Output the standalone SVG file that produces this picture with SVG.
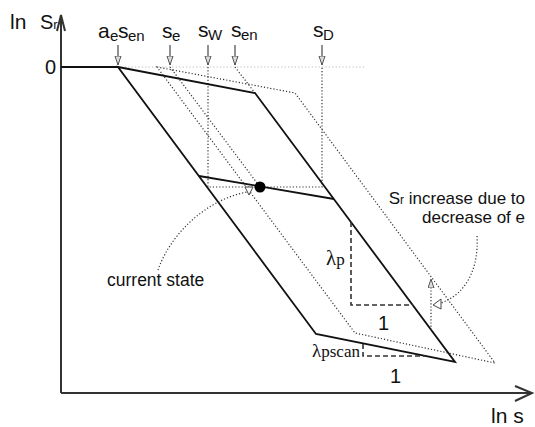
<svg xmlns="http://www.w3.org/2000/svg" width="535" height="427" viewBox="0 0 535 427">
<style>
text{font-family:"Liberation Sans",Arial,sans-serif;fill:#111}
.gr{font-family:"Liberation Serif","Times New Roman",serif}
.solid{fill:none;stroke:#111;stroke-width:1.8;stroke-linejoin:miter}
.dot{fill:none;stroke:#333;stroke-width:1.2;stroke-dasharray:1.2 2}
.ldot{fill:none;stroke:#bbb;stroke-width:1.2;stroke-dasharray:1.2 2.2}
.dash{fill:none;stroke:#333;stroke-width:1.6;stroke-dasharray:5 3}
.axis{fill:none;stroke:#333;stroke-width:2}
.lbl{fill:none;stroke:#555;stroke-width:1.3}
</style>
<defs>
<marker id="ah" markerWidth="10" markerHeight="8" refX="9" refY="3.5" orient="auto" markerUnits="userSpaceOnUse">
<path d="M0,0.5 L9,3.5 L0,6.5 Z" fill="#ddd" stroke="#555" stroke-width="1"/>
</marker>
</defs>
<g id="axes">
<path class="axis" d="M61,393 L61,15 M61,393 L532,393"/>
<path class="axis" d="M57,31 L61,15 L65,31 M515,386 L532,393 L515,401" stroke-width="1.6"/>
<text x="10" y="29" font-size="21">ln</text>
<text x="40" y="29" font-size="20">S<tspan font-size="13">r</tspan></text>
<text x="491" y="423" font-size="21">ln s</text>
<text x="45" y="74" font-size="20">0</text>
</g>
<g id="connectors">
<path class="ldot" d="M118,67 L365,67"/>
<path class="dot" d="M157,67 L295,93 L495,363 L355,333 Z"/>
<path class="dot" d="M235,67 L255,93"/>
<path class="dot" d="M170,67 L260,187"/>
<path class="dot" d="M208,67 L208,187 L322,187 L322,67"/>
<path class="solid" d="M61,67 L118,67"/>
<path class="solid" d="M118,67 L255,93 L455,362 L316,334 Z"/>
<path class="solid" d="M199,176 L334,199"/>
<path class="dash" d="M351,222 L351,305 L413,305"/>
<path class="dash" d="M363,344 L363,356 L425,356"/>
<path class="dot" d="M158,270 C170,235 205,200 247,192"/>
<path d="M245,187 L253,187 L249,195 Z" fill="#fff" stroke="#444" stroke-width="1"/>
<path class="dot" d="M477,236 C479,270 465,296 438,304"/>
<path d="M433,305 L441,299 L441,309 Z" fill="#fff" stroke="#444" stroke-width="1"/>
<path class="dot" d="M431,330 L431,279" marker-end="url(#ah)"/>
</g>
<g id="labels">
<g id="l-aesen">
<path class="lbl" d="M118,45 L118,65" marker-end="url(#ah)"/>
<text x="98" y="38" font-size="21">a</text><text x="110" y="41" font-size="15">e</text>
<text x="118" y="38" font-size="21">s</text><text x="128" y="41" font-size="15">en</text>
</g>
<g id="l-se">
<path class="lbl" d="M170,45 L170,65" marker-end="url(#ah)"/>
<text x="162" y="38" font-size="21">s</text><text x="172" y="41" font-size="15">e</text>
</g>
<g id="l-sw">
<path class="lbl" d="M208,45 L208,65" marker-end="url(#ah)"/>
<text x="198" y="37" font-size="21">s</text><text x="208" y="40" font-size="15">W</text>
</g>
<g id="l-sen">
<path class="lbl" d="M235,45 L235,65" marker-end="url(#ah)"/>
<text x="231" y="37" font-size="21">s</text><text x="241" y="40" font-size="15">en</text>
</g>
<g id="l-sd">
<path class="lbl" d="M322,45 L322,65" marker-end="url(#ah)"/>
<text x="313" y="37" font-size="21">s</text><text x="323" y="40" font-size="15">D</text>
</g>
</g>
<g id="state">
<circle cx="260" cy="187" r="5.5" fill="#000"/>
<text x="107" y="286" font-size="17.5">current state</text>
</g>
<g id="note">
<text x="525" y="204" font-size="17" text-anchor="end">S<tspan font-size="12">r</tspan> increase due to</text>
<text x="525" y="223" font-size="17" text-anchor="end">decrease of e</text>
</g>
<g id="slopes">
<text class="gr" x="326" y="265" font-size="21">λ<tspan font-size="17">p</tspan></text>
<text x="378" y="330" font-size="20">1</text>
<text class="gr" x="312" y="357" font-size="19">λ<tspan font-size="17">pscan</tspan></text>
<text x="390" y="383" font-size="20">1</text>
</g>
</svg>
